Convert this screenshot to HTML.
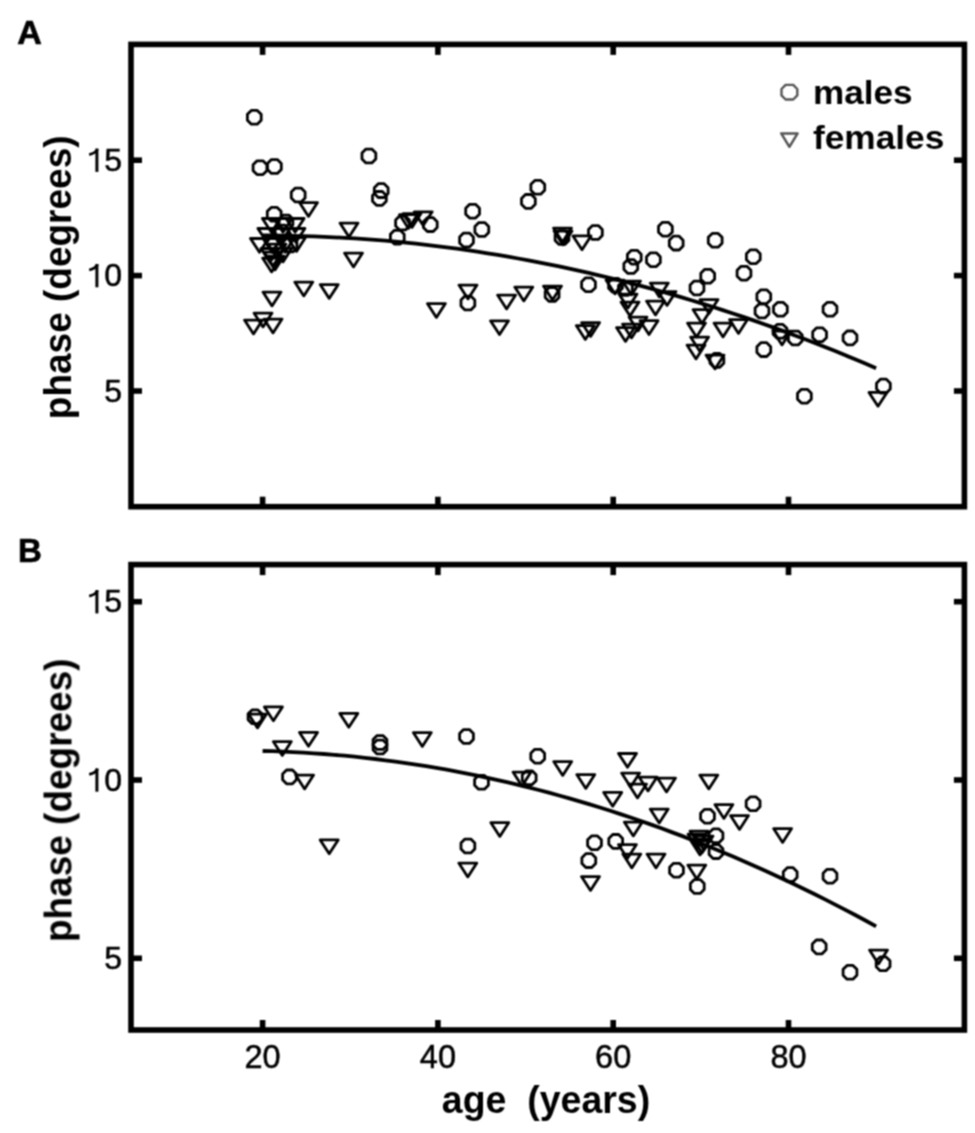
<!DOCTYPE html>
<html><head><meta charset="utf-8"><style>
html,body{margin:0;padding:0;background:#fff;}
body{width:975px;height:1133px;overflow:hidden;}
svg{display:block;font-family:"Liberation Sans",sans-serif;}
</style></head><body>
<svg width="975" height="1133" viewBox="0 0 975 1133">
<defs><filter id="b" x="0" y="0" width="975" height="1133" filterUnits="userSpaceOnUse"><feConvolveMatrix order="3" kernelMatrix="1 2 1 2 4 2 1 2 1" divisor="16" edgeMode="duplicate" preserveAlpha="false"/></filter></defs>
<rect width="975" height="1133" fill="#fff"/>
<g filter="url(#b)">
<rect x="131.0" y="44.4" width="833.4" height="462.3" fill="none" stroke="#000" stroke-width="5.6"/>
<line x1="262.6" y1="44.4" x2="262.6" y2="54.9" stroke="#000" stroke-width="5.6"/>
<line x1="262.6" y1="506.7" x2="262.6" y2="496.7" stroke="#000" stroke-width="5.6"/>
<line x1="437.9" y1="44.4" x2="437.9" y2="54.9" stroke="#000" stroke-width="5.6"/>
<line x1="437.9" y1="506.7" x2="437.9" y2="496.7" stroke="#000" stroke-width="5.6"/>
<line x1="613.2" y1="44.4" x2="613.2" y2="54.9" stroke="#000" stroke-width="5.6"/>
<line x1="613.2" y1="506.7" x2="613.2" y2="496.7" stroke="#000" stroke-width="5.6"/>
<line x1="788.5" y1="44.4" x2="788.5" y2="54.9" stroke="#000" stroke-width="5.6"/>
<line x1="788.5" y1="506.7" x2="788.5" y2="496.7" stroke="#000" stroke-width="5.6"/>
<rect x="131.0" y="564.6" width="833.4" height="465.4" fill="none" stroke="#000" stroke-width="5.6"/>
<line x1="262.6" y1="564.6" x2="262.6" y2="575.1" stroke="#000" stroke-width="5.6"/>
<line x1="262.6" y1="1030.0" x2="262.6" y2="1020.0" stroke="#000" stroke-width="5.6"/>
<line x1="437.9" y1="564.6" x2="437.9" y2="575.1" stroke="#000" stroke-width="5.6"/>
<line x1="437.9" y1="1030.0" x2="437.9" y2="1020.0" stroke="#000" stroke-width="5.6"/>
<line x1="613.2" y1="564.6" x2="613.2" y2="575.1" stroke="#000" stroke-width="5.6"/>
<line x1="613.2" y1="1030.0" x2="613.2" y2="1020.0" stroke="#000" stroke-width="5.6"/>
<line x1="788.5" y1="564.6" x2="788.5" y2="575.1" stroke="#000" stroke-width="5.6"/>
<line x1="788.5" y1="1030.0" x2="788.5" y2="1020.0" stroke="#000" stroke-width="5.6"/>
<line x1="131.0" y1="391.0" x2="142.0" y2="391.0" stroke="#000" stroke-width="5.6"/>
<line x1="964.4" y1="391.0" x2="953.9" y2="391.0" stroke="#000" stroke-width="5.6"/>
<line x1="131.0" y1="275.6" x2="142.0" y2="275.6" stroke="#000" stroke-width="5.6"/>
<line x1="964.4" y1="275.6" x2="953.9" y2="275.6" stroke="#000" stroke-width="5.6"/>
<line x1="131.0" y1="160.2" x2="142.0" y2="160.2" stroke="#000" stroke-width="5.6"/>
<line x1="964.4" y1="160.2" x2="953.9" y2="160.2" stroke="#000" stroke-width="5.6"/>
<line x1="131.0" y1="958.3" x2="142.0" y2="958.3" stroke="#000" stroke-width="5.6"/>
<line x1="964.4" y1="958.3" x2="953.9" y2="958.3" stroke="#000" stroke-width="5.6"/>
<line x1="131.0" y1="780.0" x2="142.0" y2="780.0" stroke="#000" stroke-width="5.6"/>
<line x1="964.4" y1="780.0" x2="953.9" y2="780.0" stroke="#000" stroke-width="5.6"/>
<line x1="131.0" y1="601.7" x2="142.0" y2="601.7" stroke="#000" stroke-width="5.6"/>
<line x1="964.4" y1="601.7" x2="953.9" y2="601.7" stroke="#000" stroke-width="5.6"/>
<text x="122" y="401.6" text-anchor="end" font-size="32" stroke="#000" stroke-width="0.5">5</text>
<text x="122" y="286.2" text-anchor="end" font-size="32" stroke="#000" stroke-width="0.5">0</text>
<path d="M96.9 264.0V287.3" stroke="#000" stroke-width="3.0" fill="none"/>
<path d="M97.6 264.4C96.2 267.4 93.5 269.0 89.2 270.0" stroke="#000" stroke-width="2.8" fill="none"/>
<text x="122" y="170.8" text-anchor="end" font-size="32" stroke="#000" stroke-width="0.5">5</text>
<path d="M96.9 148.6V171.9" stroke="#000" stroke-width="3.0" fill="none"/>
<path d="M97.6 149.0C96.2 152.0 93.5 153.6 89.2 154.6" stroke="#000" stroke-width="2.8" fill="none"/>
<text x="122" y="968.9" text-anchor="end" font-size="32" stroke="#000" stroke-width="0.5">5</text>
<text x="122" y="790.6" text-anchor="end" font-size="32" stroke="#000" stroke-width="0.5">0</text>
<path d="M96.9 768.4V791.7" stroke="#000" stroke-width="3.0" fill="none"/>
<path d="M97.6 768.8C96.2 771.8 93.5 773.4 89.2 774.4" stroke="#000" stroke-width="2.8" fill="none"/>
<text x="122" y="612.3" text-anchor="end" font-size="32" stroke="#000" stroke-width="0.5">5</text>
<path d="M96.9 590.1V613.4" stroke="#000" stroke-width="3.0" fill="none"/>
<path d="M97.6 590.5C96.2 593.5 93.5 595.1 89.2 596.1" stroke="#000" stroke-width="2.8" fill="none"/>
<text x="262.6" y="1068" text-anchor="middle" font-size="32.5" stroke="#000" stroke-width="0.5">20</text>
<text x="437.9" y="1068" text-anchor="middle" font-size="32.5" stroke="#000" stroke-width="0.5">40</text>
<text x="613.2" y="1068" text-anchor="middle" font-size="32.5" stroke="#000" stroke-width="0.5">60</text>
<text x="788.5" y="1068" text-anchor="middle" font-size="32.5" stroke="#000" stroke-width="0.5">80</text>
<text transform="translate(546,1112.5) scale(1.013,1.05)" text-anchor="middle" font-size="37" font-weight="bold" xml:space="preserve">age  (years)</text>
<text transform="translate(71.2,277.3) rotate(-90) scale(1,1.05)" text-anchor="middle" font-size="37" font-weight="bold">phase (degrees)</text>
<text transform="translate(71.2,800.3) rotate(-90) scale(1,1.05)" text-anchor="middle" font-size="37" font-weight="bold">phase (degrees)</text>
<text x="17.3" y="44.2" font-size="34" font-weight="bold" stroke="#000" stroke-width="0.7">A</text>
<text x="18" y="562" font-size="33" font-weight="bold" stroke="#000" stroke-width="0.7">B</text>
<text transform="translate(813,104.2) scale(1.048,1)" font-size="33.5" font-weight="bold">males</text>
<text transform="translate(813,149.2) scale(1.052,1)" font-size="33.5" font-weight="bold">females</text>
<path d="M785.6 84.9H793.2L797.3 89V95.4L793.2 99.5H785.6L781.5 95.4V89Z" stroke="#555" stroke-width="2.4" fill="none" stroke-linejoin="round"/>
<path d="M781.2 133.4H797.6L789.4 146.8Z" stroke="#555" stroke-width="2.5" fill="none" stroke-linejoin="round"/>
<polyline points="262.6,235.5 272.8,235.5 283.1,235.6 293.3,235.8 303.5,236.1 313.7,236.4 324.0,236.8 334.2,237.3 344.4,237.8 354.6,238.4 364.9,239.1 375.1,239.9 385.3,240.7 395.5,241.7 405.8,242.7 416.0,243.7 426.2,244.9 436.4,246.1 446.7,247.4 456.9,248.7 467.1,250.2 477.3,251.7 487.6,253.3 497.8,254.9 508.0,256.6 518.2,258.5 528.5,260.3 538.7,262.3 548.9,264.3 559.1,266.4 569.4,268.6 579.6,270.8 589.8,273.2 600.0,275.6 610.3,278.0 620.5,280.6 630.7,283.2 640.9,285.9 651.2,288.7 661.4,291.5 671.6,294.4 681.8,297.4 692.1,300.5 702.3,303.6 712.5,306.8 722.7,310.1 733.0,313.5 743.2,316.9 753.4,320.4 763.6,324.0 773.9,327.6 784.1,331.4 794.3,335.2 804.5,339.0 814.8,343.0 825.0,347.0 835.2,351.1 845.4,355.3 855.7,359.5 865.9,363.8 876.1,368.2" fill="none" stroke="#000" stroke-width="3.8" stroke-linejoin="round"/>
<polyline points="262.6,751.0 272.8,751.2 283.1,751.6 293.3,752.1 303.5,752.6 313.7,753.3 324.0,754.0 334.2,754.8 344.4,755.7 354.6,756.7 364.9,757.8 375.1,759.0 385.3,760.3 395.5,761.6 405.8,763.1 416.0,764.6 426.2,766.2 436.4,767.9 446.7,769.7 456.9,771.6 467.1,773.6 477.3,775.7 487.6,777.8 497.8,780.1 508.0,782.4 518.2,784.9 528.5,787.4 538.7,790.0 548.9,792.7 559.1,795.5 569.4,798.4 579.6,801.3 589.8,804.4 600.0,807.5 610.3,810.8 620.5,814.1 630.7,817.5 640.9,821.0 651.2,824.6 661.4,828.3 671.6,832.1 681.8,835.9 692.1,839.9 702.3,843.9 712.5,848.0 722.7,852.3 733.0,856.6 743.2,861.0 753.4,865.5 763.6,870.0 773.9,874.7 784.1,879.5 794.3,884.3 804.5,889.2 814.8,894.3 825.0,899.4 835.2,904.6 845.4,909.9 855.7,915.3 865.9,920.7 876.1,926.3" fill="none" stroke="#000" stroke-width="3.8" stroke-linejoin="round"/>
<path d="M251.35 110.40 L257.25 110.40 L261.20 114.35 L261.20 120.25 L257.25 124.20 L251.35 124.20 L247.40 120.25 L247.40 114.35Z" stroke="#000" stroke-width="2.8" fill="none" stroke-linejoin="round"/>
<path d="M257.05 160.80 L262.95 160.80 L266.90 164.75 L266.90 170.65 L262.95 174.60 L257.05 174.60 L253.10 170.65 L253.10 164.75Z" stroke="#000" stroke-width="2.8" fill="none" stroke-linejoin="round"/>
<path d="M271.45 159.60 L277.35 159.60 L281.30 163.55 L281.30 169.45 L277.35 173.40 L271.45 173.40 L267.50 169.45 L267.50 163.55Z" stroke="#000" stroke-width="2.8" fill="none" stroke-linejoin="round"/>
<path d="M365.95 149.10 L371.85 149.10 L375.80 153.05 L375.80 158.95 L371.85 162.90 L365.95 162.90 L362.00 158.95 L362.00 153.05Z" stroke="#000" stroke-width="2.8" fill="none" stroke-linejoin="round"/>
<path d="M378.25 183.70 L384.15 183.70 L388.10 187.65 L388.10 193.55 L384.15 197.50 L378.25 197.50 L374.30 193.55 L374.30 187.65Z" stroke="#000" stroke-width="2.8" fill="none" stroke-linejoin="round"/>
<path d="M376.45 191.50 L382.35 191.50 L386.30 195.45 L386.30 201.35 L382.35 205.30 L376.45 205.30 L372.50 201.35 L372.50 195.45Z" stroke="#000" stroke-width="2.8" fill="none" stroke-linejoin="round"/>
<path d="M295.25 188.10 L301.15 188.10 L305.10 192.05 L305.10 197.95 L301.15 201.90 L295.25 201.90 L291.30 197.95 L291.30 192.05Z" stroke="#000" stroke-width="2.8" fill="none" stroke-linejoin="round"/>
<path d="M271.25 207.40 L277.15 207.40 L281.10 211.35 L281.10 217.25 L277.15 221.20 L271.25 221.20 L267.30 217.25 L267.30 211.35Z" stroke="#000" stroke-width="2.8" fill="none" stroke-linejoin="round"/>
<path d="M394.35 230.30 L400.25 230.30 L404.20 234.25 L404.20 240.15 L400.25 244.10 L394.35 244.10 L390.40 240.15 L390.40 234.25Z" stroke="#000" stroke-width="2.8" fill="none" stroke-linejoin="round"/>
<path d="M399.55 216.10 L405.45 216.10 L409.40 220.05 L409.40 225.95 L405.45 229.90 L399.55 229.90 L395.60 225.95 L395.60 220.05Z" stroke="#000" stroke-width="2.8" fill="none" stroke-linejoin="round"/>
<path d="M427.35 217.70 L433.25 217.70 L437.20 221.65 L437.20 227.55 L433.25 231.50 L427.35 231.50 L423.40 227.55 L423.40 221.65Z" stroke="#000" stroke-width="2.8" fill="none" stroke-linejoin="round"/>
<path d="M469.65 204.30 L475.55 204.30 L479.50 208.25 L479.50 214.15 L475.55 218.10 L469.65 218.10 L465.70 214.15 L465.70 208.25Z" stroke="#000" stroke-width="2.8" fill="none" stroke-linejoin="round"/>
<path d="M478.85 222.60 L484.75 222.60 L488.70 226.55 L488.70 232.45 L484.75 236.40 L478.85 236.40 L474.90 232.45 L474.90 226.55Z" stroke="#000" stroke-width="2.8" fill="none" stroke-linejoin="round"/>
<path d="M463.55 233.10 L469.45 233.10 L473.40 237.05 L473.40 242.95 L469.45 246.90 L463.55 246.90 L459.60 242.95 L459.60 237.05Z" stroke="#000" stroke-width="2.8" fill="none" stroke-linejoin="round"/>
<path d="M534.85 180.40 L540.75 180.40 L544.70 184.35 L544.70 190.25 L540.75 194.20 L534.85 194.20 L530.90 190.25 L530.90 184.35Z" stroke="#000" stroke-width="2.8" fill="none" stroke-linejoin="round"/>
<path d="M525.45 194.50 L531.35 194.50 L535.30 198.45 L535.30 204.35 L531.35 208.30 L525.45 208.30 L521.50 204.35 L521.50 198.45Z" stroke="#000" stroke-width="2.8" fill="none" stroke-linejoin="round"/>
<path d="M559.05 230.60 L564.95 230.60 L568.90 234.55 L568.90 240.45 L564.95 244.40 L559.05 244.40 L555.10 240.45 L555.10 234.55Z" stroke="#000" stroke-width="2.8" fill="none" stroke-linejoin="round"/>
<path d="M592.45 225.60 L598.35 225.60 L602.30 229.55 L602.30 235.45 L598.35 239.40 L592.45 239.40 L588.50 235.45 L588.50 229.55Z" stroke="#000" stroke-width="2.8" fill="none" stroke-linejoin="round"/>
<path d="M662.45 222.30 L668.35 222.30 L672.30 226.25 L672.30 232.15 L668.35 236.10 L662.45 236.10 L658.50 232.15 L658.50 226.25Z" stroke="#000" stroke-width="2.8" fill="none" stroke-linejoin="round"/>
<path d="M673.25 236.20 L679.15 236.20 L683.10 240.15 L683.10 246.05 L679.15 250.00 L673.25 250.00 L669.30 246.05 L669.30 240.15Z" stroke="#000" stroke-width="2.8" fill="none" stroke-linejoin="round"/>
<path d="M712.25 233.40 L718.15 233.40 L722.10 237.35 L722.10 243.25 L718.15 247.20 L712.25 247.20 L708.30 243.25 L708.30 237.35Z" stroke="#000" stroke-width="2.8" fill="none" stroke-linejoin="round"/>
<path d="M631.35 250.30 L637.25 250.30 L641.20 254.25 L641.20 260.15 L637.25 264.10 L631.35 264.10 L627.40 260.15 L627.40 254.25Z" stroke="#000" stroke-width="2.8" fill="none" stroke-linejoin="round"/>
<path d="M627.85 259.60 L633.75 259.60 L637.70 263.55 L637.70 269.45 L633.75 273.40 L627.85 273.40 L623.90 269.45 L623.90 263.55Z" stroke="#000" stroke-width="2.8" fill="none" stroke-linejoin="round"/>
<path d="M650.45 252.80 L656.35 252.80 L660.30 256.75 L660.30 262.65 L656.35 266.60 L650.45 266.60 L646.50 262.65 L646.50 256.75Z" stroke="#000" stroke-width="2.8" fill="none" stroke-linejoin="round"/>
<path d="M750.35 249.80 L756.25 249.80 L760.20 253.75 L760.20 259.65 L756.25 263.60 L750.35 263.60 L746.40 259.65 L746.40 253.75Z" stroke="#000" stroke-width="2.8" fill="none" stroke-linejoin="round"/>
<path d="M741.05 266.30 L746.95 266.30 L750.90 270.25 L750.90 276.15 L746.95 280.10 L741.05 280.10 L737.10 276.15 L737.10 270.25Z" stroke="#000" stroke-width="2.8" fill="none" stroke-linejoin="round"/>
<path d="M704.75 269.30 L710.65 269.30 L714.60 273.25 L714.60 279.15 L710.65 283.10 L704.75 283.10 L700.80 279.15 L700.80 273.25Z" stroke="#000" stroke-width="2.8" fill="none" stroke-linejoin="round"/>
<path d="M694.05 281.10 L699.95 281.10 L703.90 285.05 L703.90 290.95 L699.95 294.90 L694.05 294.90 L690.10 290.95 L690.10 285.05Z" stroke="#000" stroke-width="2.8" fill="none" stroke-linejoin="round"/>
<path d="M760.85 289.80 L766.75 289.80 L770.70 293.75 L770.70 299.65 L766.75 303.60 L760.85 303.60 L756.90 299.65 L756.90 293.75Z" stroke="#000" stroke-width="2.8" fill="none" stroke-linejoin="round"/>
<path d="M759.05 304.10 L764.95 304.10 L768.90 308.05 L768.90 313.95 L764.95 317.90 L759.05 317.90 L755.10 313.95 L755.10 308.05Z" stroke="#000" stroke-width="2.8" fill="none" stroke-linejoin="round"/>
<path d="M777.45 302.40 L783.35 302.40 L787.30 306.35 L787.30 312.25 L783.35 316.20 L777.45 316.20 L773.50 312.25 L773.50 306.35Z" stroke="#000" stroke-width="2.8" fill="none" stroke-linejoin="round"/>
<path d="M827.05 302.40 L832.95 302.40 L836.90 306.35 L836.90 312.25 L832.95 316.20 L827.05 316.20 L823.10 312.25 L823.10 306.35Z" stroke="#000" stroke-width="2.8" fill="none" stroke-linejoin="round"/>
<path d="M777.05 324.40 L782.95 324.40 L786.90 328.35 L786.90 334.25 L782.95 338.20 L777.05 338.20 L773.10 334.25 L773.10 328.35Z" stroke="#000" stroke-width="2.8" fill="none" stroke-linejoin="round"/>
<path d="M792.35 331.10 L798.25 331.10 L802.20 335.05 L802.20 340.95 L798.25 344.90 L792.35 344.90 L788.40 340.95 L788.40 335.05Z" stroke="#000" stroke-width="2.8" fill="none" stroke-linejoin="round"/>
<path d="M816.65 327.80 L822.55 327.80 L826.50 331.75 L826.50 337.65 L822.55 341.60 L816.65 341.60 L812.70 337.65 L812.70 331.75Z" stroke="#000" stroke-width="2.8" fill="none" stroke-linejoin="round"/>
<path d="M847.05 331.00 L852.95 331.00 L856.90 334.95 L856.90 340.85 L852.95 344.80 L847.05 344.80 L843.10 340.85 L843.10 334.95Z" stroke="#000" stroke-width="2.8" fill="none" stroke-linejoin="round"/>
<path d="M760.85 342.70 L766.75 342.70 L770.70 346.65 L770.70 352.55 L766.75 356.50 L760.85 356.50 L756.90 352.55 L756.90 346.65Z" stroke="#000" stroke-width="2.8" fill="none" stroke-linejoin="round"/>
<path d="M713.95 353.50 L719.85 353.50 L723.80 357.45 L723.80 363.35 L719.85 367.30 L713.95 367.30 L710.00 363.35 L710.00 357.45Z" stroke="#000" stroke-width="2.8" fill="none" stroke-linejoin="round"/>
<path d="M801.45 389.30 L807.35 389.30 L811.30 393.25 L811.30 399.15 L807.35 403.10 L801.45 403.10 L797.50 399.15 L797.50 393.25Z" stroke="#000" stroke-width="2.8" fill="none" stroke-linejoin="round"/>
<path d="M880.45 379.20 L886.35 379.20 L890.30 383.15 L890.30 389.05 L886.35 393.00 L880.45 393.00 L876.50 389.05 L876.50 383.15Z" stroke="#000" stroke-width="2.8" fill="none" stroke-linejoin="round"/>
<path d="M585.55 277.80 L591.45 277.80 L595.40 281.75 L595.40 287.65 L591.45 291.60 L585.55 291.60 L581.60 287.65 L581.60 281.75Z" stroke="#000" stroke-width="2.8" fill="none" stroke-linejoin="round"/>
<path d="M549.15 287.60 L555.05 287.60 L559.00 291.55 L559.00 297.45 L555.05 301.40 L549.15 301.40 L545.20 297.45 L545.20 291.55Z" stroke="#000" stroke-width="2.8" fill="none" stroke-linejoin="round"/>
<path d="M464.95 296.10 L470.85 296.10 L474.80 300.05 L474.80 305.95 L470.85 309.90 L464.95 309.90 L461.00 305.95 L461.00 300.05Z" stroke="#000" stroke-width="2.8" fill="none" stroke-linejoin="round"/>
<path d="M612.55 278.40 L618.45 278.40 L622.40 282.35 L622.40 288.25 L618.45 292.20 L612.55 292.20 L608.60 288.25 L608.60 282.35Z" stroke="#000" stroke-width="2.8" fill="none" stroke-linejoin="round"/>
<path d="M622.45 281.50 L628.35 281.50 L632.30 285.45 L632.30 291.35 L628.35 295.30 L622.45 295.30 L618.50 291.35 L618.50 285.45Z" stroke="#000" stroke-width="2.8" fill="none" stroke-linejoin="round"/>
<path d="M279.05 225.10 L284.95 225.10 L288.90 229.05 L288.90 234.95 L284.95 238.90 L279.05 238.90 L275.10 234.95 L275.10 229.05Z" stroke="#000" stroke-width="2.8" fill="none" stroke-linejoin="round"/>
<path d="M283.05 215.10 L288.95 215.10 L292.90 219.05 L292.90 224.95 L288.95 228.90 L283.05 228.90 L279.10 224.95 L279.10 219.05Z" stroke="#000" stroke-width="2.8" fill="none" stroke-linejoin="round"/>
<path d="M287.05 238.10 L292.95 238.10 L296.90 242.05 L296.90 247.95 L292.95 251.90 L287.05 251.90 L283.10 247.95 L283.10 242.05Z" stroke="#000" stroke-width="2.8" fill="none" stroke-linejoin="round"/>
<path d="M252.05 709.90 L257.95 709.90 L261.90 713.85 L261.90 719.75 L257.95 723.70 L252.05 723.70 L248.10 719.75 L248.10 713.85Z" stroke="#000" stroke-width="2.8" fill="none" stroke-linejoin="round"/>
<path d="M377.05 735.60 L382.95 735.60 L386.90 739.55 L386.90 745.45 L382.95 749.40 L377.05 749.40 L373.10 745.45 L373.10 739.55Z" stroke="#000" stroke-width="2.8" fill="none" stroke-linejoin="round"/>
<path d="M377.05 740.10 L382.95 740.10 L386.90 744.05 L386.90 749.95 L382.95 753.90 L377.05 753.90 L373.10 749.95 L373.10 744.05Z" stroke="#000" stroke-width="2.8" fill="none" stroke-linejoin="round"/>
<path d="M286.55 770.00 L292.45 770.00 L296.40 773.95 L296.40 779.85 L292.45 783.80 L286.55 783.80 L282.60 779.85 L282.60 773.95Z" stroke="#000" stroke-width="2.8" fill="none" stroke-linejoin="round"/>
<path d="M463.55 729.60 L469.45 729.60 L473.40 733.55 L473.40 739.45 L469.45 743.40 L463.55 743.40 L459.60 739.45 L459.60 733.55Z" stroke="#000" stroke-width="2.8" fill="none" stroke-linejoin="round"/>
<path d="M478.55 775.40 L484.45 775.40 L488.40 779.35 L488.40 785.25 L484.45 789.20 L478.55 789.20 L474.60 785.25 L474.60 779.35Z" stroke="#000" stroke-width="2.8" fill="none" stroke-linejoin="round"/>
<path d="M534.75 749.30 L540.65 749.30 L544.60 753.25 L544.60 759.15 L540.65 763.10 L534.75 763.10 L530.80 759.15 L530.80 753.25Z" stroke="#000" stroke-width="2.8" fill="none" stroke-linejoin="round"/>
<path d="M526.25 770.80 L532.15 770.80 L536.10 774.75 L536.10 780.65 L532.15 784.60 L526.25 784.60 L522.30 780.65 L522.30 774.75Z" stroke="#000" stroke-width="2.8" fill="none" stroke-linejoin="round"/>
<path d="M464.95 839.10 L470.85 839.10 L474.80 843.05 L474.80 848.95 L470.85 852.90 L464.95 852.90 L461.00 848.95 L461.00 843.05Z" stroke="#000" stroke-width="2.8" fill="none" stroke-linejoin="round"/>
<path d="M591.55 835.90 L597.45 835.90 L601.40 839.85 L601.40 845.75 L597.45 849.70 L591.55 849.70 L587.60 845.75 L587.60 839.85Z" stroke="#000" stroke-width="2.8" fill="none" stroke-linejoin="round"/>
<path d="M585.85 853.70 L591.75 853.70 L595.70 857.65 L595.70 863.55 L591.75 867.50 L585.85 867.50 L581.90 863.55 L581.90 857.65Z" stroke="#000" stroke-width="2.8" fill="none" stroke-linejoin="round"/>
<path d="M612.75 834.50 L618.65 834.50 L622.60 838.45 L622.60 844.35 L618.65 848.30 L612.75 848.30 L608.80 844.35 L608.80 838.45Z" stroke="#000" stroke-width="2.8" fill="none" stroke-linejoin="round"/>
<path d="M704.55 809.30 L710.45 809.30 L714.40 813.25 L714.40 819.15 L710.45 823.10 L704.55 823.10 L700.60 819.15 L700.60 813.25Z" stroke="#000" stroke-width="2.8" fill="none" stroke-linejoin="round"/>
<path d="M750.15 796.90 L756.05 796.90 L760.00 800.85 L760.00 806.75 L756.05 810.70 L750.15 810.70 L746.20 806.75 L746.20 800.85Z" stroke="#000" stroke-width="2.8" fill="none" stroke-linejoin="round"/>
<path d="M713.05 828.90 L718.95 828.90 L722.90 832.85 L722.90 838.75 L718.95 842.70 L713.05 842.70 L709.10 838.75 L709.10 832.85Z" stroke="#000" stroke-width="2.8" fill="none" stroke-linejoin="round"/>
<path d="M713.05 844.70 L718.95 844.70 L722.90 848.65 L722.90 854.55 L718.95 858.50 L713.05 858.50 L709.10 854.55 L709.10 848.65Z" stroke="#000" stroke-width="2.8" fill="none" stroke-linejoin="round"/>
<path d="M673.55 863.30 L679.45 863.30 L683.40 867.25 L683.40 873.15 L679.45 877.10 L673.55 877.10 L669.60 873.15 L669.60 867.25Z" stroke="#000" stroke-width="2.8" fill="none" stroke-linejoin="round"/>
<path d="M694.35 879.60 L700.25 879.60 L704.20 883.55 L704.20 889.45 L700.25 893.40 L694.35 893.40 L690.40 889.45 L690.40 883.55Z" stroke="#000" stroke-width="2.8" fill="none" stroke-linejoin="round"/>
<path d="M787.25 867.70 L793.15 867.70 L797.10 871.65 L797.10 877.55 L793.15 881.50 L787.25 881.50 L783.30 877.55 L783.30 871.65Z" stroke="#000" stroke-width="2.8" fill="none" stroke-linejoin="round"/>
<path d="M827.05 869.30 L832.95 869.30 L836.90 873.25 L836.90 879.15 L832.95 883.10 L827.05 883.10 L823.10 879.15 L823.10 873.25Z" stroke="#000" stroke-width="2.8" fill="none" stroke-linejoin="round"/>
<path d="M816.25 940.00 L822.15 940.00 L826.10 943.95 L826.10 949.85 L822.15 953.80 L816.25 953.80 L812.30 949.85 L812.30 943.95Z" stroke="#000" stroke-width="2.8" fill="none" stroke-linejoin="round"/>
<path d="M847.05 965.40 L852.95 965.40 L856.90 969.35 L856.90 975.25 L852.95 979.20 L847.05 979.20 L843.10 975.25 L843.10 969.35Z" stroke="#000" stroke-width="2.8" fill="none" stroke-linejoin="round"/>
<path d="M880.15 956.90 L886.05 956.90 L890.00 960.85 L890.00 966.75 L886.05 970.70 L880.15 970.70 L876.20 966.75 L876.20 960.85Z" stroke="#000" stroke-width="2.8" fill="none" stroke-linejoin="round"/>
<path d="M299.50 202.60H317.50L308.50 216.40Z" stroke="#000" stroke-width="2.8" fill="none" stroke-linejoin="round"/>
<path d="M262.40 218.50H280.40L271.40 232.30Z" stroke="#000" stroke-width="2.8" fill="none" stroke-linejoin="round"/>
<path d="M274.00 218.50H292.00L283.00 232.30Z" stroke="#000" stroke-width="2.8" fill="none" stroke-linejoin="round"/>
<path d="M286.10 218.50H304.10L295.10 232.30Z" stroke="#000" stroke-width="2.8" fill="none" stroke-linejoin="round"/>
<path d="M257.90 228.50H275.90L266.90 242.30Z" stroke="#000" stroke-width="2.8" fill="none" stroke-linejoin="round"/>
<path d="M272.00 228.50H290.00L281.00 242.30Z" stroke="#000" stroke-width="2.8" fill="none" stroke-linejoin="round"/>
<path d="M286.90 228.50H304.90L295.90 242.30Z" stroke="#000" stroke-width="2.8" fill="none" stroke-linejoin="round"/>
<path d="M250.50 238.50H268.50L259.50 252.30Z" stroke="#000" stroke-width="2.8" fill="none" stroke-linejoin="round"/>
<path d="M263.00 238.50H281.00L272.00 252.30Z" stroke="#000" stroke-width="2.8" fill="none" stroke-linejoin="round"/>
<path d="M276.00 238.50H294.00L285.00 252.30Z" stroke="#000" stroke-width="2.8" fill="none" stroke-linejoin="round"/>
<path d="M287.50 237.60H305.50L296.50 251.40Z" stroke="#000" stroke-width="2.8" fill="none" stroke-linejoin="round"/>
<path d="M261.00 248.50H279.00L270.00 262.30Z" stroke="#000" stroke-width="2.8" fill="none" stroke-linejoin="round"/>
<path d="M274.00 248.10H292.00L283.00 261.90Z" stroke="#000" stroke-width="2.8" fill="none" stroke-linejoin="round"/>
<path d="M262.60 258.10H280.60L271.60 271.90Z" stroke="#000" stroke-width="2.8" fill="none" stroke-linejoin="round"/>
<path d="M264.00 252.10H282.00L273.00 265.90Z" stroke="#000" stroke-width="2.8" fill="none" stroke-linejoin="round"/>
<path d="M268.00 244.10H286.00L277.00 257.90Z" stroke="#000" stroke-width="2.8" fill="none" stroke-linejoin="round"/>
<path d="M266.00 256.10H284.00L275.00 269.90Z" stroke="#000" stroke-width="2.8" fill="none" stroke-linejoin="round"/>
<path d="M340.00 223.10H358.00L349.00 236.90Z" stroke="#000" stroke-width="2.8" fill="none" stroke-linejoin="round"/>
<path d="M344.50 253.10H362.50L353.50 266.90Z" stroke="#000" stroke-width="2.8" fill="none" stroke-linejoin="round"/>
<path d="M294.80 282.10H312.80L303.80 295.90Z" stroke="#000" stroke-width="2.8" fill="none" stroke-linejoin="round"/>
<path d="M320.20 284.60H338.20L329.20 298.40Z" stroke="#000" stroke-width="2.8" fill="none" stroke-linejoin="round"/>
<path d="M263.00 292.10H281.00L272.00 305.90Z" stroke="#000" stroke-width="2.8" fill="none" stroke-linejoin="round"/>
<path d="M254.00 313.10H272.00L263.00 326.90Z" stroke="#000" stroke-width="2.8" fill="none" stroke-linejoin="round"/>
<path d="M244.50 320.10H262.50L253.50 333.90Z" stroke="#000" stroke-width="2.8" fill="none" stroke-linejoin="round"/>
<path d="M264.00 319.10H282.00L273.00 332.90Z" stroke="#000" stroke-width="2.8" fill="none" stroke-linejoin="round"/>
<path d="M399.50 214.60H417.50L408.50 228.40Z" stroke="#000" stroke-width="2.8" fill="none" stroke-linejoin="round"/>
<path d="M403.00 213.60H421.00L412.00 227.40Z" stroke="#000" stroke-width="2.8" fill="none" stroke-linejoin="round"/>
<path d="M414.20 211.80H432.20L423.20 225.60Z" stroke="#000" stroke-width="2.8" fill="none" stroke-linejoin="round"/>
<path d="M427.40 303.60H445.40L436.40 317.40Z" stroke="#000" stroke-width="2.8" fill="none" stroke-linejoin="round"/>
<path d="M459.00 285.10H477.00L468.00 298.90Z" stroke="#000" stroke-width="2.8" fill="none" stroke-linejoin="round"/>
<path d="M497.60 295.10H515.60L506.60 308.90Z" stroke="#000" stroke-width="2.8" fill="none" stroke-linejoin="round"/>
<path d="M514.80 287.10H532.80L523.80 300.90Z" stroke="#000" stroke-width="2.8" fill="none" stroke-linejoin="round"/>
<path d="M490.50 320.80H508.50L499.50 334.60Z" stroke="#000" stroke-width="2.8" fill="none" stroke-linejoin="round"/>
<path d="M543.50 286.10H561.50L552.50 299.90Z" stroke="#000" stroke-width="2.8" fill="none" stroke-linejoin="round"/>
<path d="M553.50 228.10H571.50L562.50 241.90Z" stroke="#000" stroke-width="2.8" fill="none" stroke-linejoin="round"/>
<path d="M554.00 231.10H572.00L563.00 244.90Z" stroke="#000" stroke-width="2.8" fill="none" stroke-linejoin="round"/>
<path d="M573.00 235.90H591.00L582.00 249.70Z" stroke="#000" stroke-width="2.8" fill="none" stroke-linejoin="round"/>
<path d="M606.00 280.10H624.00L615.00 293.90Z" stroke="#000" stroke-width="2.8" fill="none" stroke-linejoin="round"/>
<path d="M622.50 281.10H640.50L631.50 294.90Z" stroke="#000" stroke-width="2.8" fill="none" stroke-linejoin="round"/>
<path d="M650.30 283.10H668.30L659.30 296.90Z" stroke="#000" stroke-width="2.8" fill="none" stroke-linejoin="round"/>
<path d="M658.00 291.60H676.00L667.00 305.40Z" stroke="#000" stroke-width="2.8" fill="none" stroke-linejoin="round"/>
<path d="M646.50 301.10H664.50L655.50 314.90Z" stroke="#000" stroke-width="2.8" fill="none" stroke-linejoin="round"/>
<path d="M619.00 294.10H637.00L628.00 307.90Z" stroke="#000" stroke-width="2.8" fill="none" stroke-linejoin="round"/>
<path d="M621.00 302.10H639.00L630.00 315.90Z" stroke="#000" stroke-width="2.8" fill="none" stroke-linejoin="round"/>
<path d="M629.00 317.10H647.00L638.00 330.90Z" stroke="#000" stroke-width="2.8" fill="none" stroke-linejoin="round"/>
<path d="M640.00 320.70H658.00L649.00 334.50Z" stroke="#000" stroke-width="2.8" fill="none" stroke-linejoin="round"/>
<path d="M622.50 324.10H640.50L631.50 337.90Z" stroke="#000" stroke-width="2.8" fill="none" stroke-linejoin="round"/>
<path d="M616.50 327.60H634.50L625.50 341.40Z" stroke="#000" stroke-width="2.8" fill="none" stroke-linejoin="round"/>
<path d="M581.60 322.60H599.60L590.60 336.40Z" stroke="#000" stroke-width="2.8" fill="none" stroke-linejoin="round"/>
<path d="M576.30 325.60H594.30L585.30 339.40Z" stroke="#000" stroke-width="2.8" fill="none" stroke-linejoin="round"/>
<path d="M700.00 299.60H718.00L709.00 313.40Z" stroke="#000" stroke-width="2.8" fill="none" stroke-linejoin="round"/>
<path d="M693.00 309.60H711.00L702.00 323.40Z" stroke="#000" stroke-width="2.8" fill="none" stroke-linejoin="round"/>
<path d="M687.50 323.10H705.50L696.50 336.90Z" stroke="#000" stroke-width="2.8" fill="none" stroke-linejoin="round"/>
<path d="M690.60 337.10H708.60L699.60 350.90Z" stroke="#000" stroke-width="2.8" fill="none" stroke-linejoin="round"/>
<path d="M687.00 345.10H705.00L696.00 358.90Z" stroke="#000" stroke-width="2.8" fill="none" stroke-linejoin="round"/>
<path d="M714.00 323.10H732.00L723.00 336.90Z" stroke="#000" stroke-width="2.8" fill="none" stroke-linejoin="round"/>
<path d="M729.50 319.60H747.50L738.50 333.40Z" stroke="#000" stroke-width="2.8" fill="none" stroke-linejoin="round"/>
<path d="M706.00 355.10H724.00L715.00 368.90Z" stroke="#000" stroke-width="2.8" fill="none" stroke-linejoin="round"/>
<path d="M773.00 331.10H791.00L782.00 344.90Z" stroke="#000" stroke-width="2.8" fill="none" stroke-linejoin="round"/>
<path d="M869.00 392.40H887.00L878.00 406.20Z" stroke="#000" stroke-width="2.8" fill="none" stroke-linejoin="round"/>
<path d="M248.50 714.10H266.50L257.50 727.90Z" stroke="#000" stroke-width="2.8" fill="none" stroke-linejoin="round"/>
<path d="M264.40 706.90H282.40L273.40 720.70Z" stroke="#000" stroke-width="2.8" fill="none" stroke-linejoin="round"/>
<path d="M339.80 713.40H357.80L348.80 727.20Z" stroke="#000" stroke-width="2.8" fill="none" stroke-linejoin="round"/>
<path d="M299.50 732.40H317.50L308.50 746.20Z" stroke="#000" stroke-width="2.8" fill="none" stroke-linejoin="round"/>
<path d="M273.30 741.60H291.30L282.30 755.40Z" stroke="#000" stroke-width="2.8" fill="none" stroke-linejoin="round"/>
<path d="M295.60 775.10H313.60L304.60 788.90Z" stroke="#000" stroke-width="2.8" fill="none" stroke-linejoin="round"/>
<path d="M413.30 732.60H431.30L422.30 746.40Z" stroke="#000" stroke-width="2.8" fill="none" stroke-linejoin="round"/>
<path d="M513.00 772.10H531.00L522.00 785.90Z" stroke="#000" stroke-width="2.8" fill="none" stroke-linejoin="round"/>
<path d="M553.70 761.60H571.70L562.70 775.40Z" stroke="#000" stroke-width="2.8" fill="none" stroke-linejoin="round"/>
<path d="M576.80 774.60H594.80L585.80 788.40Z" stroke="#000" stroke-width="2.8" fill="none" stroke-linejoin="round"/>
<path d="M603.70 792.40H621.70L612.70 806.20Z" stroke="#000" stroke-width="2.8" fill="none" stroke-linejoin="round"/>
<path d="M618.50 753.50H636.50L627.50 767.30Z" stroke="#000" stroke-width="2.8" fill="none" stroke-linejoin="round"/>
<path d="M621.60 773.10H639.60L630.60 786.90Z" stroke="#000" stroke-width="2.8" fill="none" stroke-linejoin="round"/>
<path d="M639.00 777.10H657.00L648.00 790.90Z" stroke="#000" stroke-width="2.8" fill="none" stroke-linejoin="round"/>
<path d="M657.50 778.10H675.50L666.50 791.90Z" stroke="#000" stroke-width="2.8" fill="none" stroke-linejoin="round"/>
<path d="M628.50 784.10H646.50L637.50 797.90Z" stroke="#000" stroke-width="2.8" fill="none" stroke-linejoin="round"/>
<path d="M699.80 775.10H717.80L708.80 788.90Z" stroke="#000" stroke-width="2.8" fill="none" stroke-linejoin="round"/>
<path d="M650.20 809.10H668.20L659.20 822.90Z" stroke="#000" stroke-width="2.8" fill="none" stroke-linejoin="round"/>
<path d="M624.30 822.10H642.30L633.30 835.90Z" stroke="#000" stroke-width="2.8" fill="none" stroke-linejoin="round"/>
<path d="M714.90 804.60H732.90L723.90 818.40Z" stroke="#000" stroke-width="2.8" fill="none" stroke-linejoin="round"/>
<path d="M730.50 815.60H748.50L739.50 829.40Z" stroke="#000" stroke-width="2.8" fill="none" stroke-linejoin="round"/>
<path d="M690.00 831.10H708.00L699.00 844.90Z" stroke="#000" stroke-width="2.8" fill="none" stroke-linejoin="round"/>
<path d="M693.00 839.10H711.00L702.00 852.90Z" stroke="#000" stroke-width="2.8" fill="none" stroke-linejoin="round"/>
<path d="M688.00 834.10H706.00L697.00 847.90Z" stroke="#000" stroke-width="2.8" fill="none" stroke-linejoin="round"/>
<path d="M695.00 836.10H713.00L704.00 849.90Z" stroke="#000" stroke-width="2.8" fill="none" stroke-linejoin="round"/>
<path d="M691.00 841.10H709.00L700.00 854.90Z" stroke="#000" stroke-width="2.8" fill="none" stroke-linejoin="round"/>
<path d="M687.80 865.10H705.80L696.80 878.90Z" stroke="#000" stroke-width="2.8" fill="none" stroke-linejoin="round"/>
<path d="M773.60 828.60H791.60L782.60 842.40Z" stroke="#000" stroke-width="2.8" fill="none" stroke-linejoin="round"/>
<path d="M490.80 822.60H508.80L499.80 836.40Z" stroke="#000" stroke-width="2.8" fill="none" stroke-linejoin="round"/>
<path d="M458.80 863.10H476.80L467.80 876.90Z" stroke="#000" stroke-width="2.8" fill="none" stroke-linejoin="round"/>
<path d="M581.50 876.60H599.50L590.50 890.40Z" stroke="#000" stroke-width="2.8" fill="none" stroke-linejoin="round"/>
<path d="M618.40 844.60H636.40L627.40 858.40Z" stroke="#000" stroke-width="2.8" fill="none" stroke-linejoin="round"/>
<path d="M622.80 854.10H640.80L631.80 867.90Z" stroke="#000" stroke-width="2.8" fill="none" stroke-linejoin="round"/>
<path d="M647.00 854.10H665.00L656.00 867.90Z" stroke="#000" stroke-width="2.8" fill="none" stroke-linejoin="round"/>
<path d="M320.20 839.90H338.20L329.20 853.70Z" stroke="#000" stroke-width="2.8" fill="none" stroke-linejoin="round"/>
<path d="M869.50 950.10H887.50L878.50 963.90Z" stroke="#000" stroke-width="2.8" fill="none" stroke-linejoin="round"/>
</g>
</svg>
</body></html>
